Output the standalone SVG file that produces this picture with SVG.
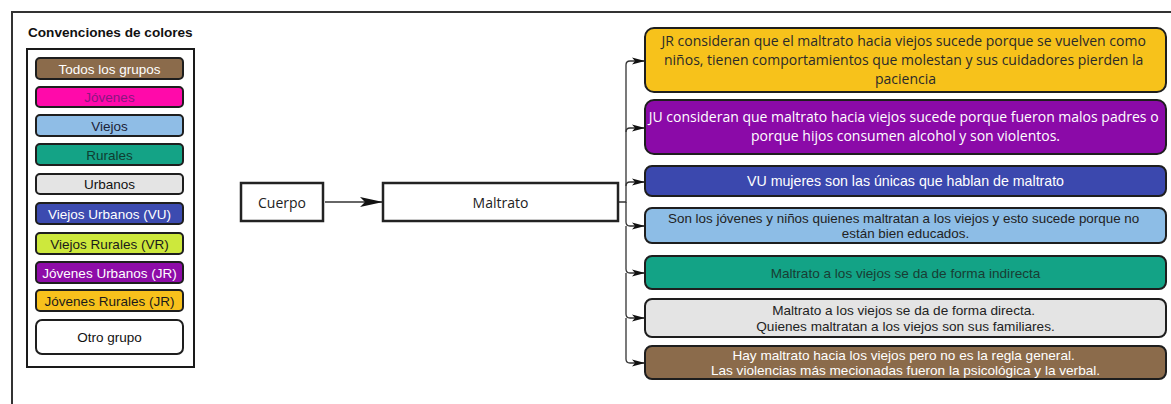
<svg xmlns="http://www.w3.org/2000/svg" width="1171" height="404" viewBox="0 0 1171 404">
  <defs>
    <style>
      .sans { font-family: "Liberation Sans", Arial, sans-serif; }
      .open { font-family: "Open Sans", "Noto Sans", sans-serif; }
      .key { stroke: #1e1e1e; stroke-width: 2; }
      .card { stroke: #1e1e1e; stroke-width: 2; }
      .plain { fill: #ffffff; stroke: #222222; stroke-width: 2.5; }
      .link { fill: none; stroke: #333333; stroke-width: 1.3; }
      .ktxt { font-size: 13.5px; }
      .ftxt { font-size: 13.6px; }
      text { text-anchor: middle; }
    </style>
    <marker id="bigHead" markerWidth="24" markerHeight="12" refX="23" refY="6" orient="auto" markerUnits="userSpaceOnUse">
      <path d="M0,1 L23,6 L0,11 L5,6 Z" fill="#111111"/>
    </marker>
    <marker id="smallHead" markerWidth="14" markerHeight="8" refX="13" refY="4" orient="auto" markerUnits="userSpaceOnUse">
      <path d="M0,0.5 L13,4 L0,7.5 L3,4 Z" fill="#111111"/>
    </marker>
  </defs>

  <rect width="1171" height="404" fill="#ffffff"/>

  <!-- page frame -->
  <path d="M12,404 V12 H1171" fill="none" stroke="#333333" stroke-width="2"/>

  <!-- colour key -->
  <g id="legend">
    <text x="28" y="37" class="sans" font-size="13.6" font-weight="bold" style="text-anchor:start" fill="#111111">Convenciones de colores</text>
    <rect x="27" y="49" width="167" height="318" fill="#ffffff" stroke="#1a1a1a" stroke-width="2"/>
    <g id="key-todos">
      <rect x="36" y="58" width="147" height="21" rx="4" fill="#8b6b4b" class="key"/>
      <text x="109.5" y="73.5" class="sans ktxt" fill="#ffffff">Todos los grupos</text>
    </g>
    <g id="key-jovenes">
      <rect x="36" y="87" width="147" height="20" rx="4" fill="#ff0aaa" class="key"/>
      <text x="109.5" y="102" class="sans ktxt" fill="#8a1680">Jóvenes</text>
    </g>
    <g id="key-viejos">
      <rect x="36" y="115" width="147" height="21" rx="4" fill="#8fbde6" class="key"/>
      <text x="109.5" y="130.5" class="sans ktxt" fill="#1c2238">Viejos</text>
    </g>
    <g id="key-rurales">
      <rect x="36" y="144" width="147" height="21" rx="4" fill="#14a386" class="key"/>
      <text x="109.5" y="159.5" class="sans ktxt" fill="#0f3d31">Rurales</text>
    </g>
    <g id="key-urbanos">
      <rect x="36" y="174" width="147" height="20" rx="4" fill="#e4e4e4" class="key"/>
      <text x="109.5" y="189" class="sans ktxt" fill="#111111">Urbanos</text>
    </g>
    <g id="key-vu">
      <rect x="36" y="203" width="147" height="21" rx="4" fill="#3c4bb0" class="key"/>
      <text x="109.5" y="218.5" class="sans ktxt" fill="#ffffff">Viejos Urbanos (VU)</text>
    </g>
    <g id="key-vr">
      <rect x="36" y="233" width="147" height="21" rx="4" fill="#cde83c" class="key"/>
      <text x="109.5" y="248.5" class="sans ktxt" fill="#1a1a1a">Viejos Rurales (VR)</text>
    </g>
    <g id="key-ju">
      <rect x="36" y="262" width="147" height="21" rx="4" fill="#8e0ca8" class="key"/>
      <text x="109.5" y="277.5" class="sans ktxt" fill="#ffffff">Jóvenes Urbanos (JR)</text>
    </g>
    <g id="key-jr">
      <rect x="36" y="290" width="147" height="21" rx="4" fill="#f8c11c" class="key"/>
      <text x="109.5" y="305.5" class="sans ktxt" fill="#1a1a1a">Jóvenes Rurales (JR)</text>
    </g>
    <g id="key-otro">
      <rect x="36" y="320" width="147" height="34" rx="6" fill="#ffffff" class="key"/>
      <text x="109.5" y="341.5" class="sans ktxt" fill="#111111">Otro grupo</text>
    </g>
  </g>

  <!-- connectors -->
  <g id="connectors">
    <path d="M325,202 H383" class="link" stroke="#111111" marker-end="url(#bigHead)"/>
    <path d="M618,202 H626 V65 Q626,61 630,61 H645" class="link" marker-end="url(#smallHead)"/>
    <path d="M626,132 Q626,128 630,128 H645" class="link" marker-end="url(#smallHead)"/>
    <path d="M626,186 Q626,182 630,182 H645" class="link" marker-end="url(#smallHead)"/>
    <path d="M626,202 V222 Q626,226 630,226 H645" class="link" marker-end="url(#smallHead)"/>
    <path d="M626,226 V269 Q626,273 630,273 H645" class="link" marker-end="url(#smallHead)"/>
    <path d="M626,273 V314 Q626,318 630,318 H645" class="link" marker-end="url(#smallHead)"/>
    <path d="M626,318 V359 Q626,363 630,363 H645" class="link" marker-end="url(#smallHead)"/>
  </g>

  <!-- main flow -->
  <g id="cuerpo">
    <rect x="241" y="183" width="82" height="38" class="plain"/>
    <text x="282" y="207.5" class="open" font-size="14" fill="#222222">Cuerpo</text>
  </g>
  <g id="maltrato">
    <rect x="383" y="183" width="235" height="38" class="plain"/>
    <text x="500.5" y="207.5" class="open" font-size="14" fill="#222222">Maltrato</text>
  </g>

  <!-- findings -->
  <g id="jr-finding">
    <rect x="645" y="28" width="521" height="64" rx="9" fill="#f7c21b" class="card"/>
    <text class="open" font-size="14" fill="#2a2a2a">
      <tspan x="905.5" y="46">JR consideran que el maltrato hacia viejos sucede porque se vuelven como</tspan>
      <tspan x="905.5" y="65">niños, tienen comportamientos que molestan y sus cuidadores pierden la</tspan>
      <tspan x="905.5" y="84">paciencia</tspan>
    </text>
  </g>
  <g id="ju-finding">
    <rect x="645" y="100" width="521" height="54" rx="9" fill="#8b0aa8" class="card"/>
    <text class="open" font-size="14" fill="#ffffff">
      <tspan x="905.5" y="122">JU consideran que maltrato hacia viejos sucede porque fueron malos padres o</tspan>
      <tspan x="905.5" y="141">porque hijos consumen alcohol y son violentos.</tspan>
    </text>
  </g>
  <g id="vu-finding">
    <rect x="645" y="166" width="521" height="30" rx="7" fill="#3b48ae" class="card"/>
    <text x="905.5" y="186" class="sans" font-size="14.2" fill="#ffffff">VU mujeres son las únicas que hablan de maltrato</text>
  </g>
  <g id="viejos-finding">
    <rect x="645" y="208" width="521" height="35" rx="7" fill="#8dbde6" class="card"/>
    <text class="sans" font-size="13.4" fill="#222222">
      <tspan x="905.5" y="222.5">Son los jóvenes y niños quienes maltratan a los viejos y esto sucede porque no</tspan>
      <tspan x="905.5" y="237.5">están bien educados.</tspan>
    </text>
  </g>
  <g id="rurales-finding">
    <rect x="645" y="256" width="521" height="33" rx="7" fill="#13a386" class="card"/>
    <text x="905.5" y="277.5" class="sans ftxt" fill="#183d33">Maltrato a los viejos se da de forma indirecta</text>
  </g>
  <g id="urbanos-finding">
    <rect x="645" y="299" width="521" height="38" rx="7" fill="#e4e4e4" class="card"/>
    <text class="sans ftxt" fill="#222222">
      <tspan x="905.5" y="314.5">Maltrato a los viejos se da de forma directa.</tspan>
      <tspan x="905.5" y="330.5">Quienes maltratan a los viejos son sus familiares.</tspan>
    </text>
  </g>
  <g id="todos-finding">
    <rect x="645" y="346" width="521" height="33" rx="7" fill="#8b6b4b" class="card"/>
    <text class="sans ftxt" fill="#ffffff">
      <tspan x="905.5" y="359.5">Hay maltrato hacia los viejos pero no es la regla general.</tspan>
      <tspan x="905.5" y="374.5">Las violencias más mecionadas fueron la psicológica y la verbal.</tspan>
    </text>
  </g>
</svg>
